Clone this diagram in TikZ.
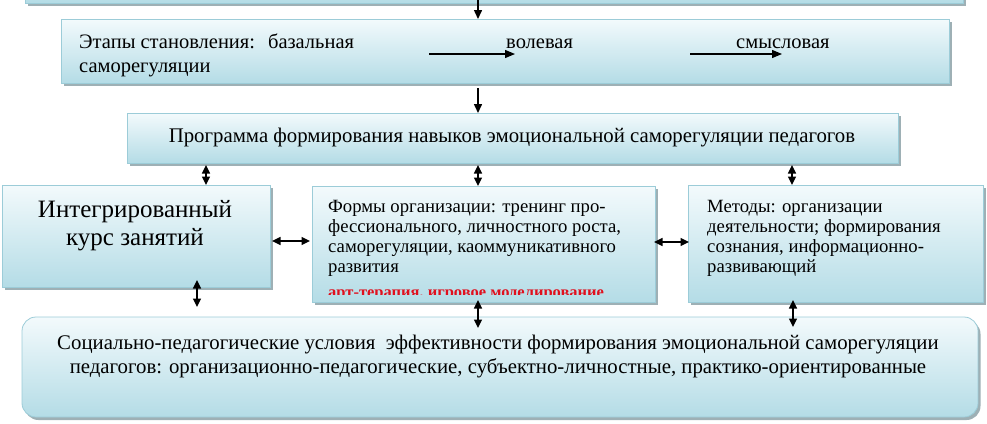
\documentclass[tikz,border=0pt]{standalone}
\usepackage{fontspec}
\setmainfont{LiberationSerif-Regular.ttf}
\newfontfamily\serifrm{LiberationSerif-Regular.ttf}
\IfFontExistsTF{LiberationSerif-Bold.ttf}{\newfontfamily\redfont{LiberationSerif-Bold.ttf}}{\newfontfamily\redfont{LiberationSerif-Regular.ttf}}
\usetikzlibrary{arrows.meta,shadows,calc}
\definecolor{boxtop}{HTML}{F3FAFC}
\definecolor{boxbot}{HTML}{B4DCE6}
\definecolor{boxline}{HTML}{9CCCD8}
\definecolor{shadowc}{HTML}{7E959C}
\definecolor{redtxt}{HTML}{E0101E}
\begin{document}
\begin{tikzpicture}[x=1pt,y=-1pt,
  box/.style={draw=boxline, line width=0.8pt, top color=boxtop, bottom color=boxbot,
    drop shadow={shadow xshift=2.5pt, shadow yshift=-3pt, fill=shadowc, opacity=0.75},
    inner sep=0pt, outer sep=0pt},
  arr/.style={-{Triangle[length=9pt,width=8pt]}, line width=1.5pt},
  thinarr/.style={-{Triangle[length=10pt,width=8pt]}, line width=1.2pt},
  dbl/.style={{Triangle[length=8.5pt,width=8pt]}-{Triangle[length=8.5pt,width=8pt]}, line width=1.5pt},
  txt/.style={inner sep=0pt, anchor=base west},
  ctxt/.style={inner sep=0pt, anchor=base},
  fst/.style={font=\serifrm\fontsize{20.5}{24}\selectfont},
  fprog/.style={font=\serifrm\fontsize{20.8}{24}\selectfont},
  fbig/.style={font=\serifrm\fontsize{25}{29}\selectfont},
  fmid/.style={font=\serifrm\fontsize{18.7}{21}\selectfont},
  fbot/.style={font=\serifrm\fontsize{20.8}{24}\selectfont}]
\useasboundingbox (0,0) rectangle (987,423);

% boxes
\node[box, minimum width=938, minimum height=60] (top) at (494,-27) {};
\node[box, minimum width=888, minimum height=64] (stage) at (505,51) {};
\node[box, minimum width=771, minimum height=50] (prog) at (512.5,138) {};
\node[box, minimum width=268, minimum height=102] (integ) at (136,236) {};
\node[box, minimum width=343, minimum height=116] (forms) at (483.5,244) {};
\node[box, minimum width=295, minimum height=117] (meth) at (835.5,243.5) {};
\node[box, rounded corners=14pt, minimum width=956, minimum height=100] (bot) at (500,367) {};

% stage texts
\node[txt, fst] (st1) at (79,48) {Этапы становления:\hspace{13pt}базальная};
\node[txt, fst] (st2) at (79,72) {саморегуляции};
\node[txt, fst] (st3) at (506,48) {волевая};
\node[txt, fst] (st4) at (736,48) {смысловая};
\coordinate (sa1) at (429,54);
\coordinate (sa2) at (515,54);
\coordinate (sb1) at (690,54);
\coordinate (sb2) at (782,54);
\draw[thinarr] (sa1) -- (sa2);
\draw[thinarr] (sb1) -- (sb2);

% program text
\node[ctxt, fprog] (pt) at (512,142) {Программа формирования навыков эмоциональной саморегуляции педагогов};

% integrated course
\node[ctxt, fbig] (it1) at (135,217) {Интегрированный};
\node[ctxt, fbig] (it2) at (135,245) {курс занятий};

% forms
\node[txt, fmid] (f1) at (328,212) {Формы организации: тренинг про-};
\node[txt, fmid] (f2) at (328,232) {фессионального, личностного роста,};
\node[txt, fmid] (f3) at (328,252) {саморегуляции, каоммуникативного};
\node[txt, fmid] (f4) at (328,272) {развития};
\begin{scope}
\clip (313,285) rectangle (654,294);
\node[txt, font=\redfont\fontsize{16.5}{18}\selectfont, text=redtxt] (f5) at (328,297) {арт-терапия,  игровое моделирование};
\end{scope}

% methods
\node[txt, fmid] (m1) at (707,212) {Методы: организации};
\node[txt, fmid] (m2) at (707,232) {деятельности; формирования};
\node[txt, fmid] (m3) at (707,252) {сознания, информационно-};
\node[txt, fmid] (m4) at (707,272) {развивающий};

% bottom
\node[ctxt, fbot] (b1) at (498,349) {Социально-педагогические условия\ \ эффективности формирования эмоциональной саморегуляции};
\node[ctxt, fbot] (b2) at (498,373) {педагогов: организационно-педагогические, субъектно-личностные, практико-ориентированные};

% connectors
\coordinate (xa) at (478,0);
\coordinate (xb) at (206,0);
\coordinate (xc) at (792,0);
\coordinate (xd) at (197,0);
\coordinate (xe) at (793,0);
\coordinate (ya) at (0,241);
\coordinate (yb) at (0,242);
\draw[arr, shorten <=-3pt] (top.south -| xa) -- (stage.north -| xa);
\draw[arr, shorten <=5pt] (stage.south -| xa) -- (prog.north -| xa);
\draw[dbl, shorten <=2pt] (prog.south -| xb) -- (integ.north -| xb);
\draw[dbl, shorten <=2pt] (prog.south -| xa) -- (forms.north -| xa);
\draw[dbl, shorten <=2pt] (prog.south -| xc) -- (meth.north -| xc);
\draw[dbl, shorten <=-7pt, shorten >=10pt] (integ.south -| xd) -- (bot.north -| xd);
\draw[dbl, shorten <=-2pt, shorten >=-11pt] (forms.south -| xa) -- (bot.north -| xa);
\draw[dbl, shorten <=-2pt, shorten >=-10pt] (meth.south -| xe) -- (bot.north -| xe);
\draw[dbl, shorten <=2pt, shorten >=2pt] (integ.east |- ya) -- (forms.west |- ya);
\draw[dbl, shorten <=-1pt, shorten >=-1pt] (forms.east |- yb) -- (meth.west |- yb);
\end{tikzpicture}
\end{document}
